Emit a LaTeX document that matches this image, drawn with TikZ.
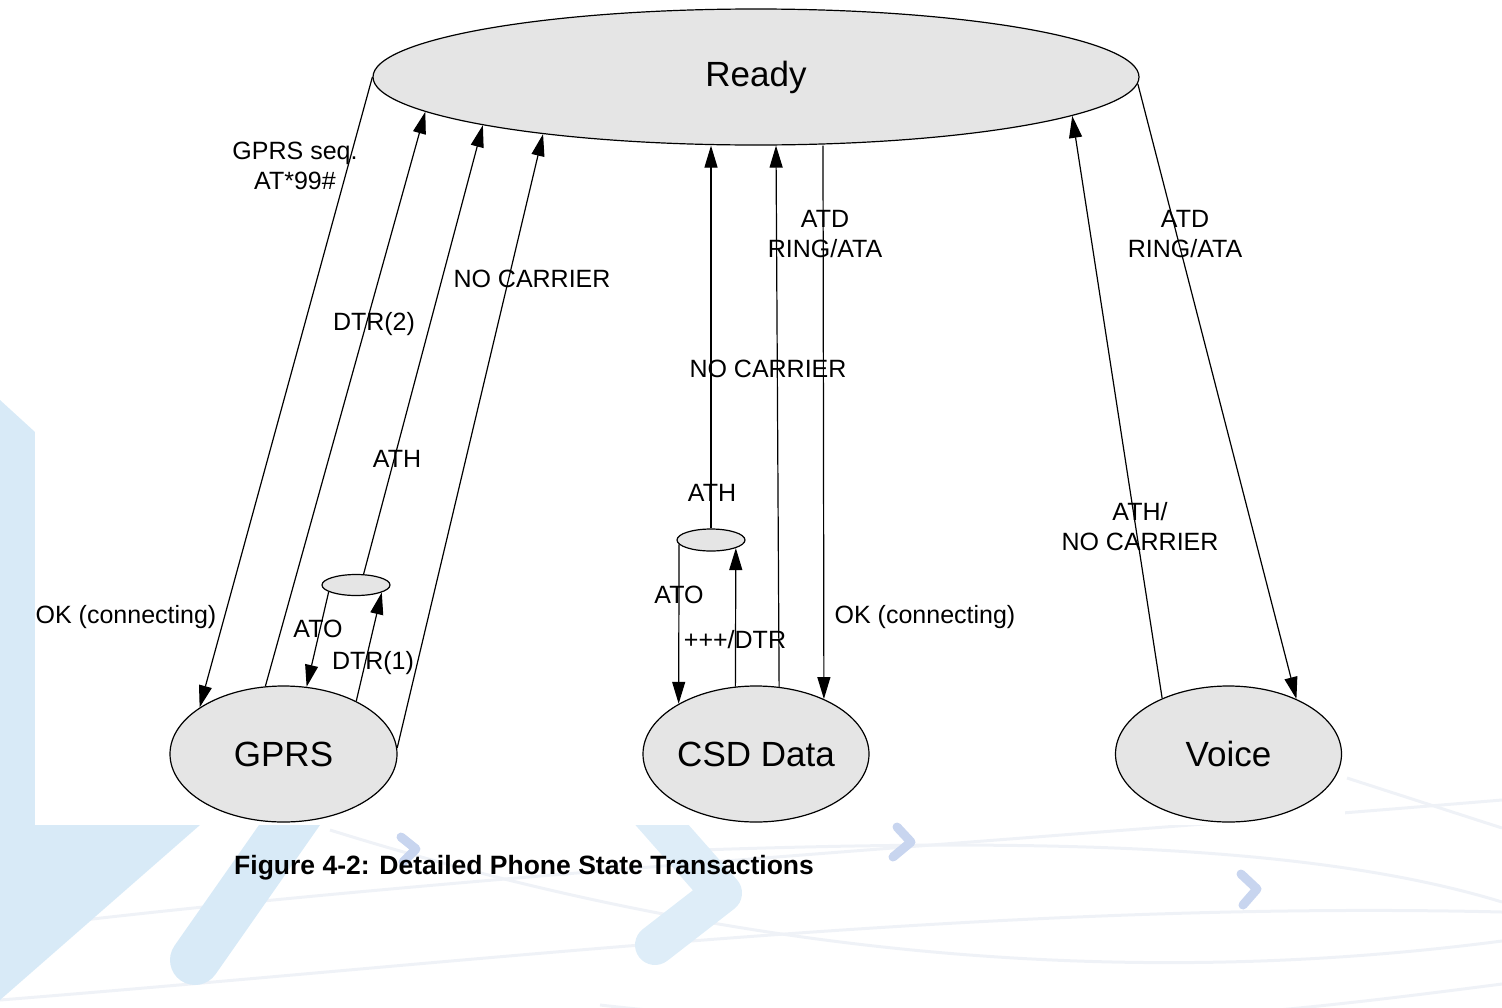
\documentclass[tikz,border=0pt]{standalone}
\usepackage{fontspec}
\setmainfont{Liberation Sans}
\usetikzlibrary{arrows.meta,shapes.geometric,calc}
\definecolor{stategray}{RGB}{229,229,229}
\definecolor{wmblue}{RGB}{216,234,247}
\definecolor{wmbluelt}{RGB}{222,237,248}
\definecolor{wmchev}{RGB}{200,213,239}
\definecolor{wmline}{RGB}{239,242,247}
\tikzset{
  statenode/.style={ellipse, draw, fill=stategray, line width=1.2pt, inner sep=0pt,
    font=\fontsize{35}{40}\selectfont},
  lbl/.style={font=\fontsize{25}{30}\selectfont, align=center, inner sep=0pt},
  arr/.style={line width=1.2pt, -{Triangle[length=22pt,width=13pt]}},
  wmband/.style={line width=50pt, line cap=round, line join=round, draw=wmblue},
  wmsmall/.style={line width=9pt, line cap=round, line join=round, draw=wmchev},
  wmcurve/.style={line width=3pt, draw=wmline}
}
\begin{document}
\begin{tikzpicture}[x=1pt,y=-1pt]
\useasboundingbox (0,0) rectangle (1502,1007);
% ---- watermark background ----
\draw[wmcurve] (0,930) .. controls (400,880) and (900,850) .. (1502,800);
\draw[wmcurve] (330,830) .. controls (650,930) and (1050,1000) .. (1502,941);
\draw[wmcurve] (0,1000) .. controls (500,960) and (1000,900) .. (1502,912);
\draw[wmcurve] (700,850) .. controls (1000,840) and (1300,840) .. (1502,902);
\draw[wmcurve] (1347,778) -- (1502,828);
\draw[wmcurve] (600,1005) .. controls (1000,1050) and (1300,1010) .. (1502,984);
\fill[wmblue] (0,400) -- (35,432) -- (35,825) -- (0,825) -- cycle;
\fill[wmblue] (0,825) -- (200,825) -- (0,1000) -- cycle;
\draw[wmband] (195,960) -- (300,810);
\draw[wmband, draw=wmbluelt, line width=40pt] (640,800) -- (722,893) -- (655,945);
\fill[white] (35,0) rectangle (1345,825);
\draw[wmsmall] (401,837) -- (416,849) -- (403,862);
\draw[wmsmall] (897,827) -- (911,842) -- (893,857);
\draw[wmsmall] (1241,874) -- (1257,889) -- (1243,905);
% ---- states ----
\node[statenode, minimum width=766pt, minimum height=136pt] (ready) at (756,77) {Ready};
\node[statenode, minimum width=227pt, minimum height=136pt] (gprs) at (283.5,754) {GPRS};
\node[statenode, minimum width=226pt, minimum height=136pt] (csd) at (756,754) {CSD Data};
\node[statenode, minimum width=226pt, minimum height=136pt] (voice) at (1228.5,754) {Voice};
\node[statenode, minimum width=68pt, minimum height=21pt] (gsmall) at (356,585) {};
\node[statenode, minimum width=68pt, minimum height=22pt] (csmall) at (711,540) {};
% ---- transitions ----
\draw[arr] (ready.180.5) -- (gprs.151.8);
\draw[arr] (gprs.105.8) -- (ready.186.1);
\draw[arr] (gsmall.55) -- (ready.190);
\draw[arr] (gprs.3.5) -- (ready.195.9);
\draw[arr] (gsmall.194.6) -- (gprs.71.4);
\draw[arr] (gprs.36.4) -- (gsmall.344);
\draw[arr] (csmall.north) -- (csmall.north |- ready.south);
\draw[arr] (csd.71.6) -- ([xshift=20pt]ready.south);
\draw[arr] ([xshift=67pt]ready.south) -- (csd.39.4);
\draw[arr] (csmall.188.3) -- (csd.147.3);
\draw[arr] (csd.107.8) -- (csmall.342);
\draw[arr] (voice.140.7) -- (ready.353.5);
\draw[arr] (ready.359.5) -- (voice.39.7);
% ---- labels ----
\node[lbl] (l1) at (295,166) {GPRS seq.\\AT*99\#};
\node[lbl] (l2) at (126,617) {OK (connecting)};
\node[lbl] (l3) at (374,324) {DTR(2)};
\node[lbl] (l4) at (532,279) {NO CARRIER};
\node[lbl] (l5) at (397,459) {ATH};
\node[lbl] (l6) at (318,629) {ATO};
\node[lbl] (l7) at (373,663) {DTR(1)};
\node[lbl] (l8) at (825,234) {ATD\\RING/ATA};
\node[lbl] (l9) at (768,369) {NO CARRIER};
\node[lbl] (l10) at (712,493) {ATH};
\node[lbl] (l11) at (679,595) {ATO};
\node[lbl] (l12) at (735,640) {+++/DTR};
\node[lbl] (l13) at (925,617) {OK (connecting)};
\node[lbl] (l14) at (1140,527) {ATH/\\NO CARRIER};
\node[lbl] (l15) at (1185,234) {ATD\\RING/ATA};
\node[font=\bfseries\fontsize{26.5}{30}\selectfont, anchor=west, inner sep=0pt] (cap) at (234,868) {Figure 4-2: Detailed Phone State Transactions};
\end{tikzpicture}
\end{document}
